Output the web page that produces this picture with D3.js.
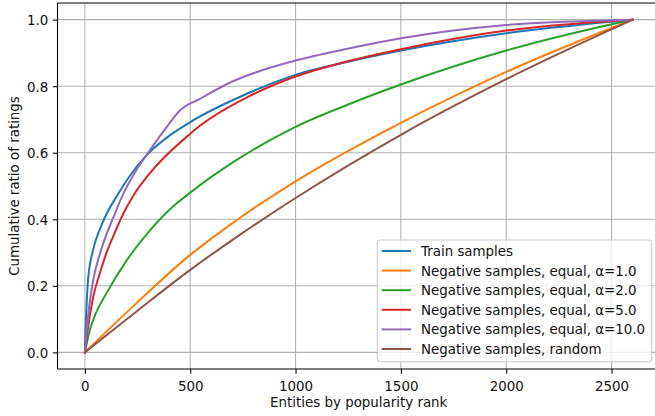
<!DOCTYPE html>
<html>
<head>
<meta charset="utf-8">
<script src="https://cdn.jsdelivr.net/npm/d3@7.9.0/dist/d3.min.js"></script>
<style>
  html, body { margin: 0; padding: 0; background: #fff; }
  svg { display: block; font-family: "DejaVu Sans", sans-serif; }
</style>
</head>
<body>
<div id="chart"></div>
<script>
// ── data (rank → cumulative ratio) ────────────────────────────────
const seriesNames = [
  'Train samples',
  'Negative samples, equal, α=1.0',
  'Negative samples, equal, α=2.0',
  'Negative samples, equal, α=5.0',
  'Negative samples, equal, α=10.0',
  'Negative samples, random'
];
const seriesColors = ['#1f77b4', '#ff7f0e', '#2ca02c', '#d62728', '#9467bd', '#8c564b'];

const trainPts = [[0,0],[2,0.05],[7,0.128],[15,0.218],[39,0.308],[71,0.37],[102,0.415],
  [150,0.468],[213,0.53],[292,0.592],[403,0.652],[500,0.692],[783,0.781],
  [1000,0.834],[1212,0.868],[1500,0.907],[2000,0.959],[2500,0.994],[2600,1]];
const alpha1Pts = [[0,0],[245,0.148],[500,0.293],[689,0.383],[735,0.404],[1000,0.514],
  [1500,0.69],[2000,0.843],[2500,0.975],[2600,1]];
const alpha2Pts = [[0,0],[25,0.07],[50,0.115],[100,0.175],[200,0.278],[300,0.36],[400,0.428],
  [500,0.48],[700,0.57],[1000,0.678],[1250,0.745],[1500,0.805],[2000,0.907],[2500,0.986],
  [2600,1]];
const alpha5Pts = [[0,0],[15,0.075],[39,0.165],[71,0.238],[102,0.298],[134,0.348],[181,0.415],
  [229,0.47],[309,0.539],[500,0.657],[546,0.681],[783,0.771],[1000,0.829],[1212,0.869],
  [1500,0.911],[2000,0.967],[2500,0.996],[2600,1]];
const alpha10Pts = [[0,0],[15,0.108],[39,0.215],[71,0.296],[102,0.354],[134,0.404],
  [181,0.475],[237,0.54],[300,0.6],[380,0.67],[451,0.727],[546,0.762],[700,0.814],[1000,0.877],
  [1258,0.914],[1500,0.944],[2000,0.984],[2500,0.998],[2600,1]];
const randomPts = [[0,0],[245,0.123],[500,0.248],[689,0.333],[735,0.353],[1000,0.464],
  [1500,0.654],[2000,0.821],[2500,0.971],[2600,1]];

const allSeries = [trainPts, alpha1Pts, alpha2Pts, alpha5Pts, alpha10Pts, randomPts];

const xTicks = [0, 500, 1000, 1500, 2000, 2500];
const yTicks = [0, 0.2, 0.4, 0.6, 0.8, 1.0];

// ── layout ────────────────────────────────────────────────────────
const width = 655, height = 416;
const plotL = 57.5, plotR = 660, plotT = 3, plotB = 369;
const fontSize = 13.4;
const tickLen = 4.67;

const svg = d3.select('#chart').append('svg')
  .attr('width', width).attr('height', height);

const x = d3.scaleLinear().domain([-130, 2730]).range([plotL, plotR]);
const y = d3.scaleLinear().domain([-0.05, 1.05]).range([plotB, plotT]);

svg.append('clipPath').attr('id', 'plot-clip')
  .append('rect').attr('x', plotL).attr('y', plotT)
  .attr('width', plotR - plotL).attr('height', plotB - plotT);

// grid
const grid = svg.append('g').attr('stroke', '#b0b0b0').attr('stroke-width', 1.07);
grid.selectAll('.gx').data(xTicks).join('line').attr('class', 'gx')
  .attr('x1', d => x(d)).attr('x2', d => x(d)).attr('y1', plotT).attr('y2', plotB);
grid.selectAll('.gy').data(yTicks).join('line').attr('class', 'gy')
  .attr('x1', plotL).attr('x2', plotR).attr('y1', d => y(d)).attr('y2', d => y(d));

// lines
const line = d3.line().x(d => x(d[0])).y(d => y(d[1])).curve(d3.curveMonotoneX);
svg.append('g').attr('clip-path', 'url(#plot-clip)')
  .selectAll('path').data(allSeries).join('path')
    .attr('d', line)
    .attr('fill', 'none')
    .attr('stroke', (d, i) => seriesColors[i])
    .attr('stroke-width', 2)
    .attr('stroke-linejoin', 'round')
    .attr('stroke-linecap', 'square');

// axes
const xAxis = svg.append('g')
  .attr('transform', `translate(0,${plotB})`)
  .call(d3.axisBottom(x).tickValues(xTicks).tickFormat(d3.format('d'))
          .tickSize(tickLen).tickPadding(4.67));
const yAxis = svg.append('g')
  .attr('transform', `translate(${plotL},0)`)
  .call(d3.axisLeft(y).tickValues(yTicks).tickFormat(d3.format('.1f'))
          .tickSize(tickLen).tickPadding(4.67));

[xAxis, yAxis].forEach(g => {
  g.select('.domain').remove();
  g.selectAll('line').attr('stroke', '#000').attr('stroke-width', 1.07);
  g.selectAll('text').attr('fill', '#111').style('font-size', fontSize + 'px')
    .style('font-family', '"DejaVu Sans", sans-serif');
});
xAxis.selectAll('text').attr('y', 21.7).attr('dy', null);
yAxis.selectAll('text').attr('dy', '0.36em');

// spines
const spines = svg.append('g').attr('stroke', '#000').attr('stroke-width', 1.07);
spines.append('line').attr('x1', plotL).attr('x2', plotL).attr('y1', plotT).attr('y2', plotB);
spines.append('line').attr('x1', plotL).attr('x2', plotR).attr('y1', plotB).attr('y2', plotB);
spines.append('line').attr('x1', plotL).attr('x2', plotR).attr('y1', plotT).attr('y2', plotT);

// axis labels
svg.append('text')
  .attr('x', x(1300)).attr('y', 407)
  .attr('text-anchor', 'middle').style('font-size', fontSize + 'px').attr('fill', '#111')
  .text('Entities by popularity rank');
svg.append('text')
  .attr('transform', `translate(19,${(plotT + plotB) / 2}) rotate(-90)`)
  .attr('text-anchor', 'middle').style('font-size', fontSize + 'px').attr('fill', '#111')
  .text('Cumulative ratio of ratings');

// legend
const legend = svg.append('g');
legend.append('rect')
  .attr('x', 377.3).attr('y', 240).attr('width', 274.4).attr('height', 121.7)
  .attr('rx', 3).attr('fill', '#fff').attr('fill-opacity', 0.8)
  .attr('stroke', '#cccccc').attr('stroke-width', 1.07);
const rowY = d3.scaleLinear().domain([0, 5]).range([251, 349]);
const rows = legend.selectAll('.row').data(seriesNames).join('g').attr('class', 'row')
  .attr('transform', (d, i) => `translate(0,${rowY(i)})`);
rows.append('line')
  .attr('x1', 381.7).attr('x2', 411).attr('y1', 0).attr('y2', 0)
  .attr('stroke', (d, i) => seriesColors[i]).attr('stroke-width', 2);
rows.append('text')
  .attr('x', 421).attr('y', 5).style('font-size', fontSize + 'px').attr('fill', '#111')
  .text(d => d);
</script>
</body>
</html>
